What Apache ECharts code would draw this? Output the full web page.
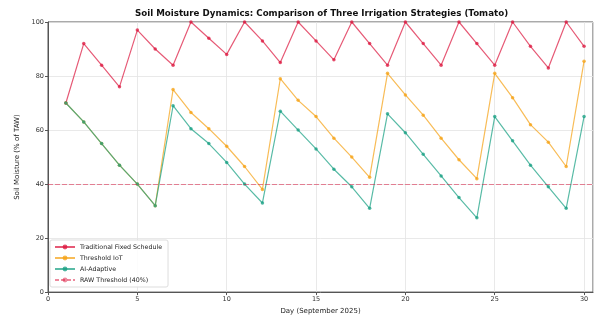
<!DOCTYPE html>
<html>
<head>
<meta charset="utf-8">
<script src="https://cdn.jsdelivr.net/npm/echarts@6/dist/echarts.min.js"></script>
<style>
  html, body { margin: 0; padding: 0; background: #fff; }
  #chart { width: 600px; height: 320px; }
</style>
</head>
<body>
<div id="chart"></div>
<script>
// Days of September 2025
const days = [1, 2, 3, 4, 5, 6, 7, 8, 9, 10, 11, 12, 13, 14, 15,
  16, 17, 18, 19, 20, 21, 22, 23, 24, 25, 26, 27, 28, 29, 30];

// Soil moisture, % of TAW
const traditional = [70, 92, 84, 76, 97, 90, 84, 100, 94, 88, 100, 93, 85, 100, 93,
  86, 100, 92, 84, 100, 92, 84, 100, 92, 84, 100, 91, 83, 100, 91];
const threshold = [70, 63, 55, 47, 40, 32, 75, 66.5, 60.5, 54, 46.5, 38, 79, 71, 65,
  57, 50, 42.5, 81, 73, 65.5, 57, 49, 42, 81, 72, 62, 55.5, 46.5, 85.5];
const aiAdaptive = [70, 63, 55, 47, 40, 32, 69, 60.5, 55, 48, 40, 33, 67, 60, 53,
  45.5, 39, 31, 66, 59, 51, 43, 35, 27.5, 65, 56, 47, 39, 31, 65];
const rawThreshold = 40;

const seriesNames = ['Traditional Fixed Schedule', 'Threshold IoT', 'AI-Adaptive', 'RAW Threshold (40%)'];
const colors = ['#dc143c', '#f5a00f', '#139e80'];

const font = 'DejaVu Sans, sans-serif';
const chart = echarts.init(document.getElementById('chart'));

const lineSeries = (name, values, color) => ({
  name: name,
  type: 'line',
  data: values.map((v, i) => [days[i], v]),
  symbol: 'circle',
  symbolSize: 3.5,
  lineStyle: { color: color, width: 1.2, opacity: 0.7 },
  itemStyle: { color: color, opacity: 0.75 },
});

chart.setOption({
  backgroundColor: '#fff',
  animation: false,
  title: {
    text: 'Soil Moisture Dynamics: Comparison of Three Irrigation Strategies (Tomato)',
    left: 130,
    top: 4,
    textStyle: { fontFamily: font, fontSize: 8.7, fontWeight: 'bold', color: '#111' },
  },
  grid: {
    left: 48, right: 7, top: 22, bottom: 27,
    show: true, borderColor: '#555', borderWidth: 1,
  },
  legend: {
    data: seriesNames,
    orient: 'vertical',
    left: 50,
    top: 240,
    itemWidth: 20,
    itemHeight: 6,
    itemGap: 5,
    padding: [4, 6, 4, 4],
    backgroundColor: 'rgba(255,255,255,0.85)',
    borderColor: '#ddd',
    borderWidth: 1,
    borderRadius: 2,
    textStyle: { fontFamily: font, fontSize: 6.3, color: '#222' },
  },
  xAxis: {
    type: 'value',
    min: 0,
    max: 30.5,
    interval: 5,
    name: 'Day (September 2025)',
    nameLocation: 'middle',
    nameGap: 15,
    nameTextStyle: { fontFamily: font, fontSize: 7, color: '#222' },
    axisLine: { show: true, lineStyle: { color: '#555' } },
    axisTick: { show: true, length: 3, lineStyle: { color: '#555' } },
    axisLabel: { fontFamily: font, fontSize: 6.5, color: '#333', margin: 4, showMaxLabel: false },
    splitLine: { show: true, lineStyle: { color: '#e3e3e3', width: 0.8 } },
  },
  yAxis: {
    type: 'value',
    min: 0,
    max: 100,
    interval: 20,
    name: 'Soil Moisture (% of TAW)',
    nameLocation: 'middle',
    nameGap: 20,
    nameTextStyle: { fontFamily: font, fontSize: 7, color: '#222' },
    axisLine: { show: true, lineStyle: { color: '#555' } },
    axisTick: { show: true, length: 3, lineStyle: { color: '#555' } },
    axisLabel: { fontFamily: font, fontSize: 6.5, color: '#333', margin: 4 },
    splitLine: { show: true, lineStyle: { color: '#e3e3e3', width: 0.8 } },
  },
  series: [
    lineSeries(seriesNames[0], traditional, colors[0]),
    lineSeries(seriesNames[1], threshold, colors[1]),
    lineSeries(seriesNames[2], aiAdaptive, colors[2]),
    {
      name: seriesNames[3],
      type: 'line',
      data: [],
      symbol: 'none',
      lineStyle: { color: '#dc143c', width: 1, opacity: 0.5, type: [4, 2] },
      itemStyle: { color: '#dc143c', opacity: 0.5 },
      markLine: {
        silent: true,
        symbol: 'none',
        label: { show: false },
        lineStyle: { color: '#dc143c', width: 1, opacity: 0.5, type: [5, 2] },
        data: [{ yAxis: rawThreshold }],
      },
    },
  ],
});
</script>
</body>
</html>
